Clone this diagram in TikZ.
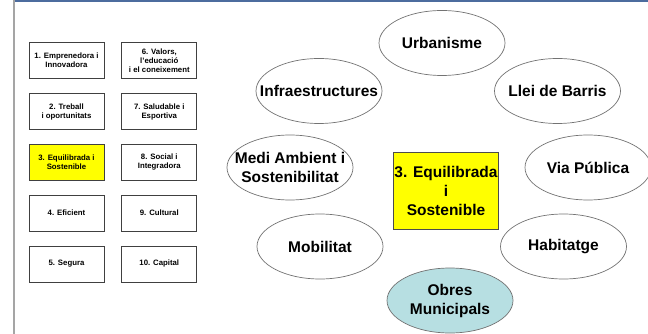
\documentclass[tikz,border=0pt]{standalone}
\usepackage{fontspec}
\setmainfont{Liberation Sans}
\usepackage[]{tikz}
\usetikzlibrary{positioning,shapes.geometric}
\definecolor{myyellow}{RGB}{255,255,0}
\definecolor{mycyan}{RGB}{183,223,226}
\definecolor{mybar}{RGB}{76,108,158}
\definecolor{mygrey}{RGB}{165,165,165}

\begin{document}
\begin{tikzpicture}[x=1pt,y=-1pt,
  axis/.style={draw=black!75,line width=0.8pt,minimum width=75pt,minimum height=36pt,
  inner sep=1pt,align=center,font=\bfseries\fontsize{7.8}{9}\selectfont},
  selnode/.style={fill=myyellow},
  topic/.style={ellipse,draw=black!55,line width=0.7pt,minimum width=126pt,
  minimum height=65pt,inner xsep=-45pt,inner ysep=-20pt,align=center,
  font=\bfseries\fontsize{15.5}{19}\selectfont}]

  \useasboundingbox (0,0) rectangle (648,334);
  \fill[mygrey] (13,0) rectangle (15,334);
  \fill[mybar] (15,0) rectangle (648,2.5);

  \node (ax1) [axis] at (66.5,60.7) {1. Emprenedora i\\Innovadora};
  \node (ax2) [axis,below=14pt of ax1] {2. Treball\\i oportunitats};
  \node (ax3) [axis,selnode,below=14pt of ax2] {3. Equilibrada i\\Sostenible};
  \node (ax4) [axis,below=14pt of ax3] {4. Eficient};
  \node (ax5) [axis,below=14pt of ax4] {5. Segura};
  \node (ax6) [axis,right=17pt of ax1] {6. Valors,\\l'educació\\i el coneixement};
  \node (ax7) [axis,right=17pt of ax2] {7. Saludable i\\Esportiva};
  \node (ax8) [axis,right=17pt of ax3] {8. Social i\\Integradora};
  \node (ax9) [axis,right=17pt of ax4] {9. Cultural};
  \node (ax10) [axis,right=17pt of ax5] {10. Capital};

  \node (eq) [draw=black!70,line width=0.8pt,fill=myyellow,minimum width=105pt,
    minimum height=77pt,inner sep=0pt,align=center,
    font=\bfseries\fontsize{15.5}{19}\selectfont] at (446,191)
    {3. Equilibrada\\i\\Sostenible};

  \node (urb) [topic] at (442,43) {Urbanisme};
  \node (inf) [topic] at (319,91) {Infraestructures};
  \node (llei) [topic] at (557.5,91) {Llei de Barris};
  \node (medi) [topic] at (290,167.5) {Medi Ambient i\\Sostenibilitat};
  \node (via) [topic] at (588,167.5) {Via Pública};
  \node (mob) [topic] at (320,246.5) {Mobilitat};
  \node (hab) [topic] at (563.5,246.5) {Habitatge};
  \node (obres) [topic,fill=mycyan] at (450,300.5) {Obres\\Municipals};
\end{tikzpicture}
\end{document}
